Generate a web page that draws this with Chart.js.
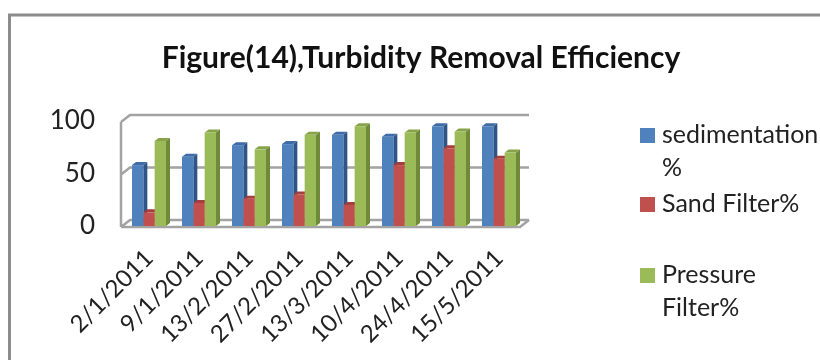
<!DOCTYPE html>
<html>
<head>
<meta charset="utf-8">
<style>
   html, body { margin: 0; padding: 0; background: #fff; }
   #chart1 { display: block; }
</style>
<script src="https://cdn.jsdelivr.net/npm/chart.js@4/dist/chart.umd.min.js"></script>
</head>
<body>
<canvas id="chart1" width="820" height="360"></canvas>
<script>
const categories = ["2/1/2011", "9/1/2011", "13/2/2011", "27/2/2011", "13/3/2011", "10/4/2011", "24/4/2011", "15/5/2011"];
const sedimentation = [58, 66, 77, 78, 87, 85, 95, 95];
const sandFilter = [13, 22, 26, 30, 20, 58, 74, 64];
const pressureFilter = [81, 89, 73, 87, 95, 89, 90, 70];
const yTicks = [0, 50, 100];
const legendLabels = [["sedimentation", "%"], ["Sand Filter%"], ["Pressure", "Filter%"]];
const titleText = "Figure(14),Turbidity Removal Efficiency";

const fronts = ["#4F81BD", "#C0504D", "#9BBB59"];
const sides = ["#2F5488", "#8E3431", "#6F8A3A"];
const tops = ["#3F6CA6", "#A53F3C", "#86A34A"];
const fontName = "Lato, 'Open Sans', sans-serif";

const wallX = 9, wallY = 7;   // depth of the back wall
const barX = 4, barY = 3;     // depth of each bar

const frame3d = {
   id: "frame3d",
   beforeDraw(chart) {
      const ctx = chart.ctx;
      ctx.save();
      ctx.strokeStyle = "#8c8c8c";
      ctx.lineWidth = 3;
      ctx.beginPath();
      ctx.moveTo(9.5, 360);
      ctx.lineTo(9.5, 15);
      ctx.lineTo(820, 15);
      ctx.stroke();
      ctx.restore();
   },
   beforeDatasetsDraw(chart) {
      const ctx = chart.ctx;
      const y = chart.scales.y;
      const left = chart.chartArea.left - 3;
      const right = chart.chartArea.right - 4;
      ctx.save();
      ctx.strokeStyle = "#a3a3a3";
      ctx.lineWidth = 2.5;
      ctx.beginPath();
      yTicks.forEach((tick) => {
         const py = y.getPixelForValue(tick) + 1;
         ctx.moveTo(left, py);
         ctx.lineTo(left + wallX, py - wallY);
         ctx.lineTo(right + wallX, py - wallY);
      });
      ctx.moveTo(left, y.getPixelForValue(0) + 1);
      ctx.lineTo(left, y.getPixelForValue(100) + 1);
      ctx.moveTo(left, y.getPixelForValue(0) + 1);
      ctx.lineTo(right, y.getPixelForValue(0) + 1);
      ctx.lineTo(right + wallX, y.getPixelForValue(0) + 1 - wallY);
      ctx.stroke();

      // side and top faces of the bars, the fronts are drawn over them
      chart.data.datasets.forEach((set, i) => {
         chart.getDatasetMeta(i).data.forEach((bar) => {
            const x0 = bar.x - bar.width / 2;
            const x1 = bar.x + bar.width / 2;
            ctx.fillStyle = sides[i];
            ctx.beginPath();
            ctx.moveTo(x1, bar.y);
            ctx.lineTo(x1 + barX, bar.y - barY);
            ctx.lineTo(x1 + barX, bar.base - barY);
            ctx.lineTo(x1, bar.base);
            ctx.closePath();
            ctx.fill();
            ctx.fillStyle = tops[i];
            ctx.beginPath();
            ctx.moveTo(x0, bar.y);
            ctx.lineTo(x0 + barX, bar.y - barY);
            ctx.lineTo(x1 + barX, bar.y - barY);
            ctx.lineTo(x1, bar.y);
            ctx.closePath();
            ctx.fill();
         });
      });
      ctx.restore();
   },
   afterDraw(chart) {
      // legend with the wrapped labels of the reference
      const ctx = chart.ctx;
      const rows = [135, 204, 275];
      ctx.save();
      ctx.font = `25px ${fontName}`;
      ctx.textBaseline = "middle";
      chart.data.datasets.forEach((set, i) => {
         ctx.fillStyle = fronts[i];
         ctx.fillRect(640, rows[i] - 7, 15, 15);
         ctx.fillStyle = "#222";
         set.label.forEach((line, n) => {
            ctx.fillText(line, 662, rows[i] + n * 33);
         });
      });
      ctx.restore();
   }
};

const chart = new Chart(document.querySelector("#chart1"), {
   type: "bar",
   data: {
      labels: categories,
      datasets: [
         { label: legendLabels[0], data: sedimentation, backgroundColor: fronts[0] },
         { label: legendLabels[1], data: sandFilter, backgroundColor: fronts[1] },
         { label: legendLabels[2], data: pressureFilter, backgroundColor: fronts[2] },
      ]
   },
   plugins: [frame3d],
   options: {
      responsive: false,
      animation: false,
      layout: { padding: { left: 22, top: 0, right: 0, bottom: 0 } },
      datasets: { bar: { categoryPercentage: 0.68, barPercentage: 1 } },
      plugins: {
         legend: { display: false },
         tooltip: { enabled: false },
         title: {
            display: true,
            text: titleText,
            color: "#111",
            font: { size: 30, weight: "bold", family: fontName },
            padding: { top: 40, bottom: 45 }
         }
      },
      scales: {
         x: {
            grid: { display: false },
            border: { display: false },
            ticks: {
               color: "#222",
               font: { size: 24, family: fontName },
               minRotation: 45,
               maxRotation: 45,
               padding: 10,
               autoSkip: false
            },
            afterFit(scale) { scale.height = 134; }
         },
         y: {
            min: 0,
            max: 100,
            grid: { display: false, drawTicks: false },
            border: { display: false },
            afterBuildTicks(scale) { scale.ticks = yTicks.map((value) => ({ value })); },
            ticks: {
               color: "#222",
               font: { size: 26, family: fontName },
               padding: 29
            },
            afterFit(scale) { scale.width = 102; }
         },
         legendGap: {
            position: "right",
            display: true,
            grid: { display: false },
            border: { display: false },
            ticks: { display: false },
            afterFit(scale) { scale.width = 296; }
         }
      }
   }
});
</script>
</body>
</html>
